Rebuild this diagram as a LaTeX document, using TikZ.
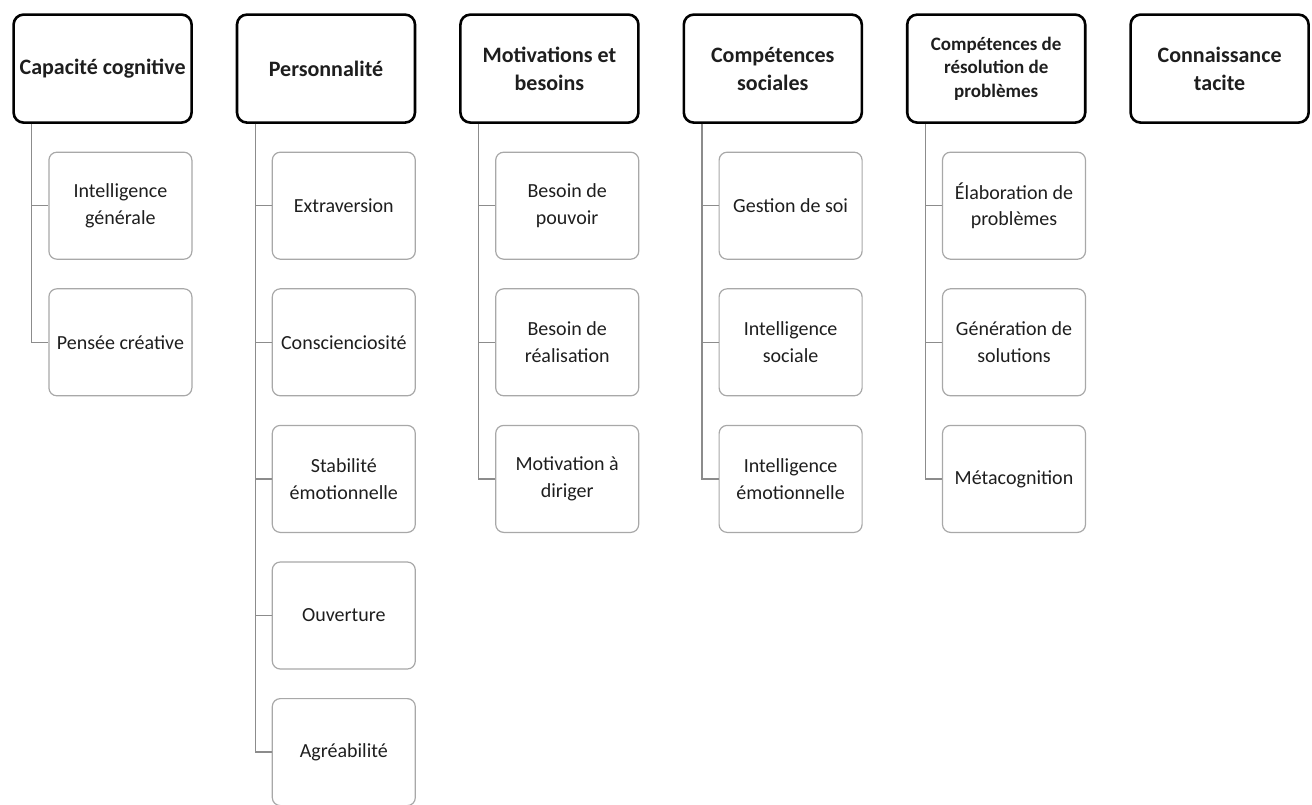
\documentclass[tikz,border=0pt]{standalone}
\usepackage{fontspec}
\setmainfont{Carlito}
\definecolor{leafline}{HTML}{A8A8A8}
\definecolor{linkline}{HTML}{8C8C8C}
\definecolor{ink}{HTML}{1E1E1E}
\begin{document}
\begin{tikzpicture}[x=1pt,y=-1pt,
  head/.style={draw=black, line width=2.6pt, rounded corners=10pt,
    minimum width=178pt, minimum height=108pt, inner sep=3pt,
    align=center, anchor=north west, text=ink,
    font=\fontsize{22}{28}\selectfont\bfseries},
  smallhead/.style={head, font=\fontsize{19}{23.5}\selectfont\bfseries},
  leaf/.style={draw=leafline, line width=1.2pt, rounded corners=8pt,
    minimum width=143pt, minimum height=107pt, inner sep=3pt,
    align=center, anchor=north west, text=ink,
    font=\fontsize{20}{26.5}\selectfont},
  link/.style={draw=linkline, line width=1.3pt}
]
\useasboundingbox (0,0) rectangle (1312,805);

% top-level categories
\node[head] (h1) at (12.3,13.3) {Capacité cognitive};
\node[head] (h2) at (235.7,13.3) {Personnalité};
\node[head] (h3) at (459.1,13.3) {Motivations et\\besoins};
\node[head] (h4) at (682.5,13.3) {Compétences\\sociales};
\node[smallhead] (h5) at (905.9,13.3) {Compétences de\\résolution de\\problèmes};
\node[head] (h6) at (1129.3,13.3) {Connaissance\\tacite};

% sub-items
\node[leaf] (l11) at (48.3,151.6) {Intelligence\\générale};
\node[leaf] (l12) at (48.3,288.2) {Pensée créative};

\node[leaf] (l21) at (271.7,151.6) {Extraversion};
\node[leaf] (l22) at (271.7,288.2) {Conscienciosité};
\node[leaf] (l23) at (271.7,424.8) {Stabilité\\émotionnelle};
\node[leaf] (l24) at (271.7,561.4) {Ouverture};
\node[leaf] (l25) at (271.7,698.0) {Agréabilité};

\node[leaf] (l31) at (495.1,151.6) {Besoin de\\pouvoir};
\node[leaf] (l32) at (495.1,288.2) {Besoin de\\réalisation};
\node[leaf] (l33) at (495.1,424.8) {Motivation à\\diriger};

\node[leaf] (l41) at (718.5,151.6) {Gestion de soi};
\node[leaf] (l42) at (718.5,288.2) {Intelligence\\sociale};
\node[leaf] (l43) at (718.5,424.8) {Intelligence\\émotionnelle};

\node[leaf] (l51) at (941.9,151.6) {Élaboration de\\problèmes};
\node[leaf] (l52) at (941.9,288.2) {Génération de\\solutions};
\node[leaf] (l53) at (941.9,424.8) {Métacognition};

% elbow connectors from each category to its items
\foreach \h/\leaves in {h1/{l11,l12}, h2/{l21,l22,l23,l24,l25},
                        h3/{l31,l32,l33}, h4/{l41,l42,l43}, h5/{l51,l52,l53}}{
  \foreach \l in \leaves {
    \draw[link] ([xshift=19.5pt]\h.south west) |- (\l.west);
  }
}
\end{tikzpicture}
\end{document}
